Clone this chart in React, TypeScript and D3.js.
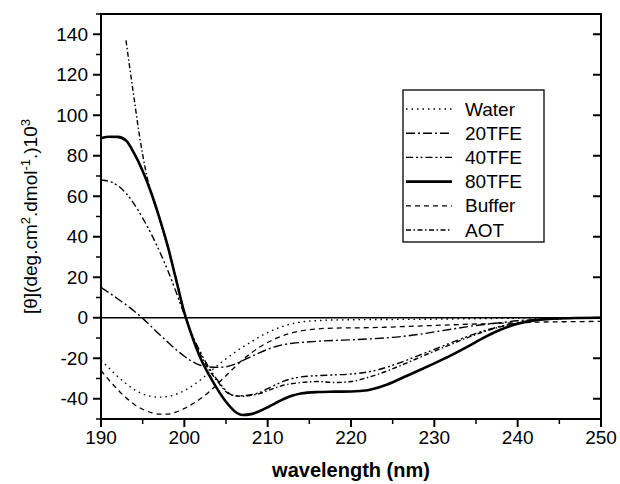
import React from "react";
import * as d3 from "d3";

const WL = [190,191,192,193,194,195,196,197,198,199,200,201,202,203,204,205,206,207,208,209,210,211,212,213,214,216,218,220,222,224,226,228,230,232,234,236,238,240,242,245,250];
const water = [-21,-25,-29,-32.5,-35.5,-37.6,-38.8,-39.2,-38.9,-37.8,-36,-33.5,-30.5,-27,-23.5,-20.3,-17.3,-14.5,-12,-9.5,-7.3,-5.5,-4,-2.9,-2.1,-1.4,-1.1,-1,-0.9,-0.9,-0.8,-0.8,-0.7,-0.6,-0.5,-0.4,-0.3,-0.2,-0.1,0,0];
const tfe20 = [15,12.2,9.4,6.4,3.2,-0.3,-4.2,-8.2,-12,-15.7,-19,-21.8,-23.6,-24.3,-24.5,-24.2,-23,-21.2,-19.2,-17.3,-15.6,-14.2,-13.2,-12.6,-12.2,-11.6,-11.2,-10.9,-10.5,-10,-9.3,-8.3,-7,-5.7,-4.4,-3.3,-2.4,-1.5,-0.9,-0.3,0];
const tfe40 = [68,67.3,65.3,61.5,56,49.2,41.6,33,23.5,12.8,1.5,-9,-17.5,-25,-31,-36,-38.5,-38.5,-38,-37,-35,-33,-31.2,-30,-29.2,-28.6,-28.2,-27.8,-26.8,-24.8,-22,-18.8,-15.6,-12.4,-9.2,-6.4,-4.2,-2.6,-1.5,-0.5,0];
const tfe80 = [88.7,89.4,89.3,87.5,81,72.5,62,49.5,35.5,19,2.5,-10,-20.5,-28.5,-35.5,-41.5,-46,-48,-47.6,-46.2,-44.2,-42,-40,-38.4,-37.4,-36.7,-36.5,-36.4,-35.8,-33.5,-30,-26.3,-22.5,-18.6,-14.3,-9.7,-5.8,-3,-1.3,-0.3,0];
const buffer = [-26,-31,-35.5,-39.5,-42.8,-45.2,-46.8,-47.6,-47.6,-46.6,-44.8,-42.5,-39.8,-36.5,-32.6,-28.6,-24.6,-20.8,-17.5,-14.6,-12.2,-10.2,-8.6,-7.4,-6.5,-5.5,-5.1,-5,-4.9,-4.7,-4.4,-4.1,-3.8,-3.5,-3.2,-3,-2.7,-2.5,-2.2,-2,-1.8];
const WL_AOT = [193,193.5,194,194.5,195,195.5,196,197,198,199,200,201,202,203,204,205,206,207,208,209,210,211,212,213,214,216,218,220,222,224,226,228,230,232,234,236,238,240,242,245,250];
const aot = [137,122,107.5,93,80.5,70,62,49,35,19.5,3,-9.5,-18.5,-26,-31.5,-36.5,-38.5,-38.8,-38.3,-37.5,-36,-34.5,-33.2,-32.5,-32,-31.5,-32,-31.5,-29.5,-26.8,-23.5,-20,-16.5,-13.2,-9.8,-6.8,-4.4,-2.6,-1.3,-0.4,0];

const legendNames = ["Water", "20TFE", "40TFE", "80TFE", "Buffer", "AOT"];
const xTicks = [190, 200, 210, 220, 230, 240, 250];
const yTicks = [-40, -20, 0, 20, 40, 60, 80, 100, 120, 140];

const series = [
  { name: "Water", x: WL, y: water, dash: "1.5,4", w: 1.4 },
  { name: "20TFE", x: WL, y: tfe20, dash: "9,3,2,3", w: 1.4 },
  { name: "40TFE", x: WL, y: tfe40, dash: "7,3,2,2.5,2,3", w: 1.4 },
  { name: "80TFE", x: WL, y: tfe80, dash: "", w: 2.6 },
  { name: "Buffer", x: WL, y: buffer, dash: "5,4", w: 1.3 },
  { name: "AOT", x: WL_AOT, y: aot, dash: "5,2.5,1.5,2.5", w: 1.4 },
];

const FONT = "'Liberation Sans', Arial, Helvetica, sans-serif";

export default function App() {
  const L = 101, R = 601, T = 14, B = 419;
  const x = d3.scaleLinear().domain([190, 250]).range([L, R]);
  const y = d3.scaleLinear().domain([-50, 150]).range([B, T]);
  const line = d3
    .line<[number, number]>()
    .x((d) => x(d[0]))
    .y((d) => y(d[1]))
    .curve(d3.curveMonotoneX);

  const xMinor = d3.range(195, 250, 10);
  const yMinor = d3.range(-50, 151, 10).filter((v) => !yTicks.includes(v));

  const legX = 403, legY = 90, legW = 141, legH = 152;
  const legStep = 24.2;

  return (
    <svg
      width={620}
      height={484}
      style={{ position: "absolute", left: 0, top: 0, background: "#fff" }}
      fontFamily={FONT}
    >
      <rect x={0} y={0} width={620} height={484} fill="#fff" />
      <defs>
        <clipPath id="plotclip">
          <rect x={L} y={T} width={R - L} height={B - T} />
        </clipPath>
      </defs>
      <line x1={L} x2={R} y1={y(0)} y2={y(0)} stroke="#000" strokeWidth={1.5} />
      <g clipPath="url(#plotclip)">
        {series.map((s) => (
          <path
            key={s.name}
            d={line(s.x.map((v, i) => [v, s.y[i]] as [number, number])) || ""}
            fill="none"
            stroke="#000"
            strokeWidth={s.w}
            strokeDasharray={s.dash || undefined}
          />
        ))}
      </g>
      <rect x={L} y={T} width={R - L} height={B - T} fill="none" stroke="#000" strokeWidth={2} />
      {xTicks.map((t) => (
        <g key={"xt" + t}>
          <line x1={x(t)} x2={x(t)} y1={B} y2={B + 8} stroke="#000" strokeWidth={2} />
          <text x={x(t)} y={444} fontSize={19} textAnchor="middle">
            {t}
          </text>
        </g>
      ))}
      {xMinor.map((t) => (
        <line key={"xm" + t} x1={x(t)} x2={x(t)} y1={B} y2={B + 5} stroke="#000" strokeWidth={1.5} />
      ))}
      {yTicks.map((t) => (
        <g key={"yt" + t}>
          <line x1={L - 8} x2={L} y1={y(t)} y2={y(t)} stroke="#000" strokeWidth={2} />
          <line x1={R - 8} x2={R} y1={y(t)} y2={y(t)} stroke="#000" strokeWidth={2} />
          <text x={88} y={y(t)} fontSize={19} textAnchor="end" dominantBaseline="central">
            {t}
          </text>
        </g>
      ))}
      {yMinor.map((t) => (
        <line key={"ym" + t} x1={L - 5} x2={L} y1={y(t)} y2={y(t)} stroke="#000" strokeWidth={1.5} />
      ))}
      <text x={(L + R) / 2} y={477} fontSize={20} fontWeight="bold" textAnchor="middle">
        wavelength (nm)
      </text>
      <text
        transform={`translate(37, ${(T + B) / 2}) rotate(-90)`}
        fontSize={19}
        textAnchor="middle"
      >
        <tspan>[θ](deg.cm</tspan>
        <tspan fontSize={13} dy={-7}>2</tspan>
        <tspan dy={7}>.dmol</tspan>
        <tspan fontSize={13} dy={-7}>-1</tspan>
        <tspan dy={7}>.)10</tspan>
        <tspan fontSize={13} dy={-7}>3</tspan>
      </text>
      <rect x={legX} y={legY} width={legW} height={legH} fill="#fff" stroke="#000" strokeWidth={1.3} />
      {legendNames.map((n, i) => {
        const s = series.find((q) => q.name === n)!;
        const yy = legY + 19 + i * legStep;
        return (
          <g key={"lg" + n}>
            <line
              x1={legX + 3}
              x2={legX + 49}
              y1={yy}
              y2={yy}
              stroke="#000"
              strokeWidth={s.w}
              strokeDasharray={s.dash || undefined}
            />
            <text x={legX + 62} y={yy} fontSize={19} dominantBaseline="central">
              {n}
            </text>
          </g>
        );
      })}
    </svg>
  );
}
